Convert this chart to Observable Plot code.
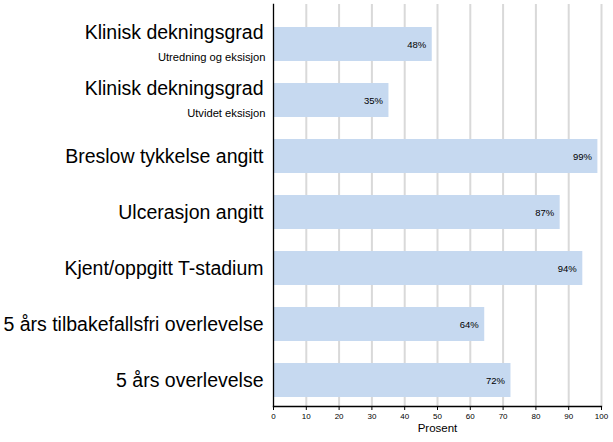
<!DOCTYPE html>
<html>
<head>
<meta charset="utf-8">
<script src="https://cdn.jsdelivr.net/npm/d3@7"></script>
<script src="https://cdn.jsdelivr.net/npm/@observablehq/plot@0.6"></script>
<style>
  html, body { margin: 0; padding: 0; background: #fff; }
  #chart { width: 613px; height: 442px; }
</style>
</head>
<body>
<div id="chart"></div>
<script>
const categories = [
  "Klinisk dekningsgrad",
  "Klinisk dekningsgrad",
  "Breslow tykkelse angitt",
  "Ulcerasjon angitt",
  "Kjent/oppgitt T-stadium",
  "5 års tilbakefallsfri overlevelse",
  "5 års overlevelse"
];
const subtitles = ["Utredning og eksisjon", "Utvidet eksisjon", "", "", "", "", ""];
const values = [48.4, 35.2, 98.9, 87.4, 94.3, 64.4, 72.4];
const xTicks = [0, 10, 20, 30, 40, 50, 60, 70, 80, 90, 100];
const xLabel = "Prosent";

const rows = categories.map((c, i) => ({
  key: i, label: c, sub: subtitles[i], value: values[i],
  pct: Math.round(values[i]) + "%"
}));
const withSub = rows.filter(d => d.sub);
const noSub = rows.filter(d => !d.sub);
const font = "Liberation Sans, Arial, sans-serif";

const chart = Plot.plot({
  width: 613,
  height: 442,
  marginLeft: 273,
  marginRight: 12,
  marginTop: 4,
  marginBottom: 36,
  style: { fontFamily: font, background: "#fff", color: "#000" },
  x: { domain: [0, 100], axis: null },
  y: { domain: d3.range(categories.length), axis: null, range: [24, 400], paddingInner: 0.386, paddingOuter: 0 },
  marks: [
    Plot.ruleX(xTicks.filter(t => t > 0), { stroke: "#d9d9d9", strokeWidth: 2 }),
    Plot.barX(rows, { y: "key", x: "value", fill: "#c6d9f0" }),
    Plot.text(rows, { y: "key", x: "value", text: "pct", textAnchor: "end", dx: -6, fontSize: 9.5, fill: "#000" }),
    Plot.text(noSub, { y: "key", x: 0, text: "label", textAnchor: "end", dx: -10, fontSize: 19.5, fill: "#000" }),
    Plot.text(withSub, { y: "key", x: 0, text: "label", textAnchor: "end", dx: -10, dy: -12, fontSize: 19.5, fill: "#000" }),
    Plot.text(withSub, { y: "key", x: 0, text: "sub", textAnchor: "end", dx: -8, dy: 13, fontSize: 11.2, fill: "#000" }),
    Plot.frame({ anchor: "left", stroke: "#000", strokeWidth: 1.3 }),
    Plot.axisX({ ticks: xTicks, tickSize: 4, tickPadding: 3, fontSize: 8, label: null, stroke: "#000" }),
    Plot.frame({ anchor: "bottom", stroke: "#000", strokeWidth: 1.3 }),
    Plot.text([xLabel], { frameAnchor: "bottom", dy: 25, fontSize: 11.5, fill: "#000" })
  ]
});
document.getElementById("chart").appendChild(chart);
</script>
</body>
</html>
